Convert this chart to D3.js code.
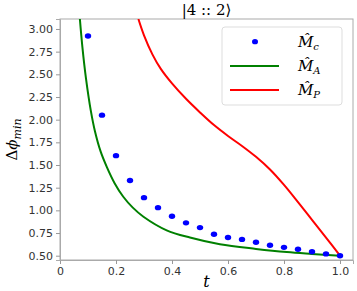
<!DOCTYPE html>
<html>
<head>
<script src="https://d3js.org/d3.v7.min.js"></script>
<style>
body { margin: 0; background: white; }
.tick text { font-family: "DejaVu Sans", sans-serif; font-size: 11px; fill: #333; }
.tick line { stroke: #999; }
.domain { stroke: #aaa; }
.tex { font-family: "DejaVu Serif", "Liberation Serif", serif; }
</style>
</head>
<body>
<svg width="357" height="291"></svg>
<script>
// blue dots, M_c
var tDots = [0.1, 0.15, 0.2, 0.25, 0.3, 0.35, 0.4, 0.45, 0.5, 0.55, 0.6, 0.65, 0.7, 0.75, 0.8, 0.85, 0.9, 0.95, 1.0];
var mc = [2.923, 2.05, 1.603, 1.33, 1.14, 1.03, 0.935, 0.862, 0.81, 0.737, 0.70, 0.68, 0.648, 0.615, 0.592, 0.571, 0.543, 0.52, 0.50];

// green curve, M_A
var tA = [0.071, 0.08, 0.093, 0.11, 0.125, 0.145, 0.167, 0.195, 0.226, 0.26, 0.298, 0.381, 0.464, 0.571, 0.7, 0.81, 0.9, 1.0];
var ma = [3.11, 2.80, 2.45, 2.10, 1.87, 1.65, 1.48, 1.30, 1.15, 1.03, 0.93, 0.78, 0.70, 0.626, 0.575, 0.54, 0.52, 0.50];

// red curve, M_P
var tP = [0.28, 0.30, 0.33, 0.36, 0.40, 0.45, 0.50, 0.55, 0.60, 0.65, 0.70, 0.75, 0.80, 0.85, 0.90, 0.95, 1.0];
var mp = [3.11, 2.93, 2.72, 2.56, 2.40, 2.23, 2.08, 1.94, 1.82, 1.71, 1.59, 1.45, 1.28, 1.09, 0.895, 0.70, 0.50];

var xTicks = [0, 0.2, 0.4, 0.6, 0.8, 1.0];
var yTicks = [0.5, 0.75, 1.0, 1.25, 1.5, 1.75, 2.0, 2.25, 2.5, 2.75, 3.0];

var svg = d3.select("svg");
var pL = 60, pR = 353, pT = 19, pB = 260;

var x = d3.scaleLinear().domain([0, 1.0464]).range([pL, pR]);
var y = d3.scaleLinear().domain([0.4526, 3.11]).range([pB, pT]);

svg.append("clipPath").attr("id", "clip")
  .append("rect").attr("x", pL).attr("y", pT).attr("width", pR - pL).attr("height", pB - pT);

// frame
svg.append("rect")
  .attr("x", pL).attr("y", pT).attr("width", pR - pL).attr("height", pB - pT)
  .attr("fill", "none").attr("stroke", "#aaa");

// axes
svg.append("g")
  .attr("transform", "translate(0," + pB + ")")
  .call(d3.axisBottom(x).tickValues(xTicks).tickSize(4)
    .tickFormat(function(d) { return d === 0 ? "0" : d.toFixed(1); }));
svg.append("g")
  .attr("transform", "translate(" + pL + ",0)")
  .call(d3.axisLeft(y).tickValues(yTicks).tickSize(4).tickFormat(d3.format(".2f")));

var plot = svg.append("g").attr("clip-path", "url(#clip)");

var line = d3.line()
  .x(function(d) { return x(d[0]); })
  .y(function(d) { return y(d[1]); })
  .curve(d3.curveCatmullRom);

plot.append("path")
  .datum(d3.zip(tA, ma))
  .attr("d", line)
  .attr("fill", "none").attr("stroke", "#008000").attr("stroke-width", 2);

plot.append("path")
  .datum(d3.zip(tP, mp))
  .attr("d", line)
  .attr("fill", "none").attr("stroke", "#ff0000").attr("stroke-width", 2);

plot.selectAll("ellipse").data(d3.zip(tDots, mc))
  .enter().append("ellipse")
  .attr("cx", function(d) { return x(d[0]); })
  .attr("cy", function(d) { return y(d[1]); })
  .attr("rx", 3.2).attr("ry", 2.7)
  .attr("fill", "#0000ff");

// title
svg.append("text").attr("class", "tex")
  .attr("x", (pL + pR) / 2).attr("y", 15)
  .attr("text-anchor", "middle").style("font-size", "15px")
  .text("|4 :: 2\u27E9");

// x label
svg.append("text").attr("class", "tex")
  .attr("x", (pL + pR) / 2).attr("y", 287)
  .attr("text-anchor", "middle").style("font-size", "16px").style("font-style", "italic")
  .text("t");

// y label
var yl = svg.append("text").attr("class", "tex")
  .attr("transform", "translate(17," + ((pT + pB) / 2) + ")rotate(-90)")
  .attr("text-anchor", "middle").style("font-size", "15px");
yl.append("tspan").text("\u0394");
yl.append("tspan").style("font-style", "italic").text("\u03D5");
yl.append("tspan").style("font-style", "italic").style("font-size", "11px").attr("dy", 4).text("min");

// legend
var lg = svg.append("g");
lg.append("rect")
  .attr("x", 222).attr("y", 27).attr("width", 120).attr("height", 78).attr("rx", 3)
  .attr("fill", "white").attr("fill-opacity", 0.8).attr("stroke", "#ddd");

var entries = [
  { sub: "c", kind: "dot", color: "#0000ff" },
  { sub: "A", kind: "line", color: "#008000" },
  { sub: "P", kind: "line", color: "#ff0000" }
];
entries.forEach(function(e, i) {
  var cy = 41.7 + i * 24.2;
  if (e.kind === "dot") {
    lg.append("ellipse").attr("cx", 255).attr("cy", cy).attr("rx", 3).attr("ry", 2.6).attr("fill", e.color);
  } else {
    lg.append("line").attr("x1", 230).attr("x2", 279).attr("y1", cy).attr("y2", cy)
      .attr("stroke", e.color).attr("stroke-width", 2);
  }
  var t = lg.append("text").attr("class", "tex")
    .attr("x", 298).attr("y", cy + 5).style("font-size", "15px").style("font-style", "italic");
  t.append("tspan").text("M\u0302");
  t.append("tspan").style("font-size", "10px").attr("dy", 3).text(e.sub);
});
</script>
</body>
</html>
